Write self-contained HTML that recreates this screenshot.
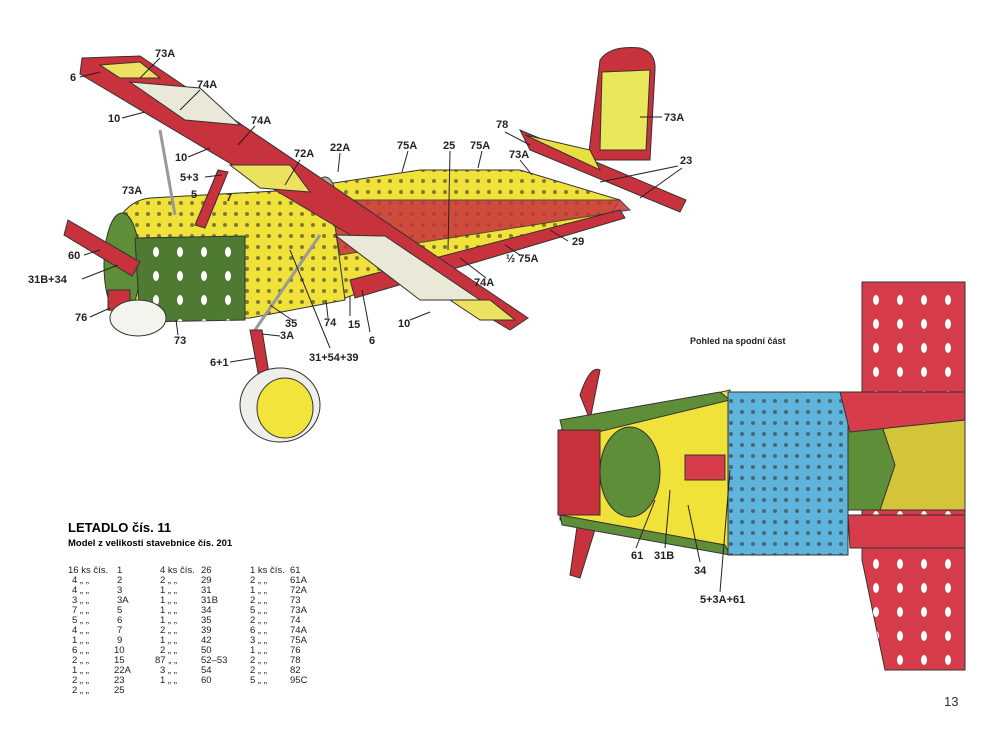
<!DOCTYPE html>
<html><head><meta charset="utf-8"><style>
body{margin:0;background:#fff;width:1000px;height:730px;overflow:hidden;font-family:"Liberation Sans",sans-serif}
svg{position:absolute;left:0;top:0}
.l{font:bold 11px "Liberation Sans",sans-serif;fill:#222}
.t{font:10px "Liberation Sans",sans-serif;fill:#222}
</style></head><body>
<svg width="1000" height="730" viewBox="0 0 1000 730">
<defs>
<pattern id="h" width="11" height="11" patternUnits="userSpaceOnUse"><circle cx="5" cy="5" r="2" fill="#333" opacity=".6"/></pattern>
<pattern id="hw" width="24" height="24" patternUnits="userSpaceOnUse"><ellipse cx="12" cy="12" rx="3" ry="5" fill="#fff"/></pattern>
</defs>
<g stroke="#333" stroke-width="1">
<path d="M588,160 L600,60 Q610,45 640,48 Q656,52 655,70 L650,160 Z" fill="#c8323c"/>
<path d="M602,72 L650,70 L646,150 L600,150 Z" fill="#e9e85a"/>
<path d="M520,130 L530,150 L680,212 L686,200 Z" fill="#c8323c"/>
<path d="M525,135 L600,170 L590,150 Z" fill="#eadf40"/>
<path d="M320,185 L420,170 L520,170 L620,200 L610,215 L380,285 L340,300 Z" fill="#f1e23a"/>
<path d="M320,185 L420,170 L520,170 L620,200 L610,215 L380,285 L340,300 Z" fill="url(#h)" stroke="none"/>
<path d="M330,200 L620,200 L630,210 L340,255 Z" fill="#c8323c" opacity=".85"/>
<path d="M350,280 L620,210 L625,218 L355,298 Z" fill="#c8323c"/>
<ellipse cx="325" cy="205" rx="12" ry="28" fill="#b7b89a"/>
<path d="M118,220 Q130,200 150,198 L330,188 L345,300 L250,318 L140,320 Z" fill="#f1e23a"/>
<path d="M118,220 Q130,200 150,198 L330,188 L345,300 L250,318 L140,320 Z" fill="url(#h)" stroke="none"/>
<ellipse cx="122" cy="265" rx="18" ry="52" fill="#5e8f38"/>
<path d="M135,238 L245,236 L245,320 L140,322 Z" fill="#4f7a32"/>
<path d="M135,238 L245,236 L245,320 L140,322 Z" fill="url(#hw)" stroke="none"/>
<path d="M68,220 L140,262 L132,276 L64,235 Z" fill="#c8323c"/>
<path d="M108,290 L130,290 L130,312 L108,310 Z" fill="#c8323c"/>
<ellipse cx="138" cy="318" rx="28" ry="18" fill="#f4f4ee"/>
<path d="M195,225 L218,170 L228,172 L205,228 Z" fill="#c8323c"/>
<line x1="160" y1="130" x2="175" y2="215" stroke="#999" stroke-width="3"/>
<line x1="320" y1="235" x2="255" y2="330" stroke="#999" stroke-width="3"/>
<path d="M250,330 L262,330 L272,392 L262,394 Z" fill="#c8323c"/>
<ellipse cx="280" cy="405" rx="40" ry="37" fill="#eeeeea"/>
<ellipse cx="285" cy="408" rx="28" ry="30" fill="#f2e43a"/>
<path d="M82,58 L140,56 L528,318 L510,330 L80,74 Z" fill="#c8323c"/>
<path d="M100,65 L140,62 L160,78 L120,78 Z" fill="#ece260"/>
<path d="M130,82 L200,88 L240,125 L185,120 Z" fill="#eae8d6"/>
<path d="M230,165 L290,165 L310,192 L260,188 Z" fill="#ece260"/>
<path d="M335,235 L385,236 L480,300 L420,300 Z" fill="#eae8d6"/>
<path d="M450,300 L490,300 L515,320 L480,320 Z" fill="#ece260"/>
</g>
<!-- bottom view -->
<g stroke="#333" stroke-width="1">
<path d="M862,282 L965,282 L965,670 L885,670 L862,560 Z" fill="#d63c4a"/>
<path d="M862,282 L965,282 L965,670 L885,670 L862,560 Z" fill="url(#hw)" stroke="none"/>
<path d="M580,395 Q590,365 600,370 L590,420 Z" fill="#c8323c"/>
<path d="M578,520 L598,520 L580,578 L570,575 Z" fill="#c8323c"/>
<path d="M560,430 L730,390 L730,555 L560,520 Z" fill="#f1e23a"/>
<path d="M560,420 L720,392 L730,400 L565,440 Z" fill="#5e8f38"/>
<path d="M560,515 L725,545 L730,555 L562,525 Z" fill="#5e8f38"/>
<path d="M558,430 L600,430 L600,515 L558,515 Z" fill="#c8323c"/>
<ellipse cx="630" cy="472" rx="30" ry="45" fill="#5e8f38"/>
<path d="M685,455 L725,455 L725,480 L685,480 Z" fill="#d63c4a"/>
<path d="M728,392 L848,392 L848,555 L728,555 Z" fill="#5fb4dc"/>
<path d="M728,392 L848,392 L848,555 L728,555 Z" fill="url(#h)" stroke="none"/>
<path d="M848,418 L965,418 L965,510 L848,510 Z" fill="#d4c43a"/>
<path d="M848,420 L880,420 L895,465 L880,510 L848,510 Z" fill="#5e8f38"/>
<path d="M840,392 L965,392 L965,420 L850,432 Z" fill="#d63c4a"/>
<path d="M848,515 L965,515 L965,548 L850,548 Z" fill="#d63c4a"/>
</g>
<!-- leader lines -->
<g stroke="#222" stroke-width="1">
<line x1="80" y1="77" x2="100" y2="72"/><line x1="160" y1="58" x2="140" y2="78"/>
<line x1="200" y1="90" x2="180" y2="110"/><line x1="122" y1="118" x2="145" y2="112"/>
<line x1="255" y1="126" x2="238" y2="145"/><line x1="188" y1="157" x2="210" y2="148"/>
<line x1="300" y1="160" x2="285" y2="185"/><line x1="340" y1="153" x2="338" y2="172"/>
<line x1="408" y1="151" x2="402" y2="172"/><line x1="450" y1="151" x2="448" y2="250"/>
<line x1="482" y1="151" x2="478" y2="168"/><line x1="505" y1="132" x2="530" y2="145"/>
<line x1="520" y1="160" x2="532" y2="175"/><line x1="662" y1="117" x2="640" y2="117"/>
<line x1="678" y1="166" x2="600" y2="182"/><line x1="682" y1="168" x2="640" y2="198"/>
<line x1="205" y1="177" x2="222" y2="175"/><line x1="84" y1="255" x2="100" y2="250"/>
<line x1="82" y1="279" x2="118" y2="265"/><line x1="90" y1="317" x2="110" y2="308"/>
<line x1="178" y1="335" x2="176" y2="320"/><line x1="568" y1="241" x2="550" y2="230"/>
<line x1="520" y1="255" x2="505" y2="245"/><line x1="486" y1="278" x2="460" y2="258"/>
<line x1="410" y1="320" x2="430" y2="312"/><line x1="328" y1="318" x2="326" y2="300"/>
<line x1="292" y1="320" x2="270" y2="305"/><line x1="280" y1="336" x2="262" y2="334"/>
<line x1="330" y1="348" x2="290" y2="250"/><line x1="230" y1="362" x2="255" y2="358"/>
<line x1="350" y1="316" x2="350" y2="296"/><line x1="370" y1="332" x2="362" y2="290"/>
<line x1="636" y1="548" x2="655" y2="500"/><line x1="665" y1="548" x2="670" y2="490"/>
<line x1="700" y1="562" x2="688" y2="505"/><line x1="720" y1="592" x2="730" y2="470"/>
</g>
<g class="l">
<text x="155" y="57">73A</text><text x="70" y="81">6</text><text x="197" y="88">74A</text>
<text x="108" y="122">10</text><text x="251" y="124">74A</text><text x="175" y="161">10</text>
<text x="294" y="157">72A</text><text x="330" y="151">22A</text><text x="397" y="149">75A</text>
<text x="443" y="149">25</text><text x="470" y="149">75A</text><text x="496" y="128">78</text>
<text x="509" y="158">73A</text><text x="664" y="121">73A</text><text x="680" y="164">23</text>
<text x="180" y="181">5+3</text><text x="191" y="198">5</text><text x="226" y="201">7</text>
<text x="122" y="194">73A</text><text x="68" y="259">60</text><text x="28" y="283">31B+34</text>
<text x="75" y="321">76</text><text x="174" y="344">73</text><text x="285" y="327">35</text>
<text x="280" y="339">3A</text><text x="324" y="326">74</text><text x="348" y="328">15</text>
<text x="369" y="344">6</text><text x="398" y="327">10</text><text x="309" y="361">31+54+39</text>
<text x="210" y="366">6+1</text><text x="474" y="286">74A</text><text x="506" y="262">½ 75A</text>
<text x="572" y="245">29</text>
<text x="631" y="559">61</text><text x="654" y="559">31B</text><text x="694" y="574">34</text>
<text x="700" y="603">5+3A+61</text>
</g>
<text x="690" y="344" class="l" style="font-size:9px">Pohled na spodní část</text>
<text x="68" y="532" style="font:bold 13px 'Liberation Sans',sans-serif">LETADLO čís. 11</text>
<text x="68" y="546" style="font:bold 9.5px 'Liberation Sans',sans-serif">Model z velikosti stavebnice čís. 201</text>
<g class="t" style="font-size:9.5px">
<text x="68" y="573">16 ks čís.</text><text x="117" y="573">1</text>
<text x="160" y="573">4 ks čís.</text><text x="201" y="573">26</text>
<text x="250" y="573">1 ks čís.</text><text x="290" y="573">61</text>
<text x="72" y="583">4  „  „</text><text x="117" y="583">2</text><text x="160" y="583">2  „  „</text><text x="201" y="583">29</text><text x="250" y="583">2  „  „</text><text x="290" y="583">61A</text>
<text x="72" y="593">4  „  „</text><text x="117" y="593">3</text><text x="160" y="593">1  „  „</text><text x="201" y="593">31</text><text x="250" y="593">1  „  „</text><text x="290" y="593">72A</text>
<text x="72" y="603">3  „  „</text><text x="117" y="603">3A</text><text x="160" y="603">1  „  „</text><text x="201" y="603">31B</text><text x="250" y="603">2  „  „</text><text x="290" y="603">73</text>
<text x="72" y="613">7  „  „</text><text x="117" y="613">5</text><text x="160" y="613">1  „  „</text><text x="201" y="613">34</text><text x="250" y="613">5  „  „</text><text x="290" y="613">73A</text>
<text x="72" y="623">5  „  „</text><text x="117" y="623">6</text><text x="160" y="623">1  „  „</text><text x="201" y="623">35</text><text x="250" y="623">2  „  „</text><text x="290" y="623">74</text>
<text x="72" y="633">4  „  „</text><text x="117" y="633">7</text><text x="160" y="633">2  „  „</text><text x="201" y="633">39</text><text x="250" y="633">6  „  „</text><text x="290" y="633">74A</text>
<text x="72" y="643">1  „  „</text><text x="117" y="643">9</text><text x="160" y="643">1  „  „</text><text x="201" y="643">42</text><text x="250" y="643">3  „  „</text><text x="290" y="643">75A</text>
<text x="72" y="653">6  „  „</text><text x="114" y="653">10</text><text x="160" y="653">2  „  „</text><text x="201" y="653">50</text><text x="250" y="653">1  „  „</text><text x="290" y="653">76</text>
<text x="72" y="663">2  „  „</text><text x="114" y="663">15</text><text x="155" y="663">87  „  „</text><text x="201" y="663">52–53</text><text x="250" y="663">2  „  „</text><text x="290" y="663">78</text>
<text x="72" y="673">1  „  „</text><text x="114" y="673">22A</text><text x="160" y="673">3  „  „</text><text x="201" y="673">54</text><text x="250" y="673">2  „  „</text><text x="290" y="673">82</text>
<text x="72" y="683">2  „  „</text><text x="114" y="683">23</text><text x="160" y="683">1  „  „</text><text x="201" y="683">60</text><text x="250" y="683">5  „  „</text><text x="290" y="683">95C</text>
<text x="72" y="693">2  „  „</text><text x="114" y="693">25</text>
</g>
<text x="944" y="706" style="font:13px 'Liberation Sans',sans-serif;fill:#333">13</text>
</svg>
</body></html>
